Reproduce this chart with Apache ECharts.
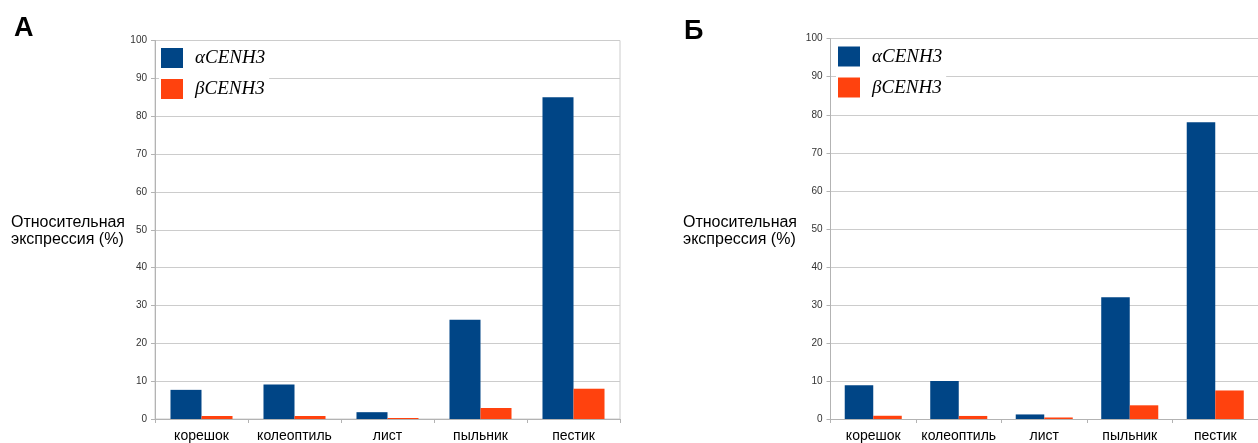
<!DOCTYPE html>
<html>
<head>
<meta charset="utf-8">
<script src="https://cdn.jsdelivr.net/npm/echarts@6/dist/echarts.min.js"></script>
<style>
html,body{margin:0;padding:0;background:#fff;}
#c{width:1258px;height:443px;}
</style>
</head>
<body>
<div id="c"></div>
<script>
var categories = ['корешок', 'колеоптиль', 'лист', 'пыльник', 'пестик'];
var seriesNames = ['αCENH3', 'βCENH3'];
var alphaA = [7.7, 9.1, 1.8, 26.2, 85.0];
var betaA = [0.8, 0.8, 0.26, 2.9, 8.0];
var alphaB = [8.9, 10.0, 1.2, 32.0, 78.0];
var betaB = [0.85, 0.8, 0.4, 3.6, 7.5];
var yTicks = {min: 0, max: 100, interval: 10};
var panelLetters = ['А', 'Б'];
var yAxisTitle = 'Относительная\nэкспрессия (%)';

var BLUE = '#004586', ORANGE = '#ff420e';
var SANS = "'Liberation Sans', Arial, sans-serif";
var SERIF = "'Liberation Serif', 'Times New Roman', serif";

function xAxisCfg(gi) {
  return {
    type: 'category', gridIndex: gi, data: categories,
    axisLine: {lineStyle: {color: '#b3b3b3', width: 1}},
    axisTick: {show: true, length: 4, lineStyle: {color: '#b3b3b3'}},
    axisLabel: {color: '#000', fontSize: 14, fontFamily: SANS, margin: 10, interval: 0}
  };
}
function yAxisCfg(gi) {
  return {
    type: 'value', gridIndex: gi, min: yTicks.min, max: yTicks.max, interval: yTicks.interval,
    axisLine: {show: true, lineStyle: {color: '#b3b3b3', width: 1}},
    axisTick: {show: true, length: 4, lineStyle: {color: '#b3b3b3'}},
    axisLabel: {color: '#333', fontSize: 10, fontFamily: SANS, margin: 8},
    splitLine: {show: true, lineStyle: {color: '#cccccc', width: 1}}
  };
}
function barSeries(name, data, color, idx) {
  return {
    type: 'bar', name: name, data: data, xAxisIndex: idx, yAxisIndex: idx,
    barGap: '0%', barCategoryGap: '33.3%',
    itemStyle: {color: color}, emphasis: {disabled: true}
  };
}
function legendCfg(left, top) {
  return {
    left: left, top: top, orient: 'vertical', data: seriesNames,
    itemWidth: 22, itemHeight: 20, itemGap: 11,
    icon: 'rect', backgroundColor: '#fff', padding: [5, 4, 5, 2], z: 10,
    textStyle: {fontFamily: SERIF, fontStyle: 'italic', fontSize: 19, color: '#000', padding: [0, 0, 0, 7]},
    selectedMode: false
  };
}

var chart = echarts.init(document.getElementById('c'), null, {renderer: 'canvas'});
chart.setOption({
  animation: false,
  backgroundColor: '#fff',
  title: [
    {text: panelLetters[0], left: 14, top: 15, textStyle: {fontFamily: SANS, fontWeight: 'bold', fontSize: 27, color: '#000'}, padding: 0},
    {text: panelLetters[1], left: 684, top: 18, textStyle: {fontFamily: SANS, fontWeight: 'bold', fontSize: 27, color: '#000'}, padding: 0},
    {text: yAxisTitle, left: 11, top: 214, padding: 0, textStyle: {fontFamily: SANS, fontWeight: 'normal', fontSize: 16, lineHeight: 17, color: '#000'}},
    {text: yAxisTitle, left: 683, top: 214, padding: 0, textStyle: {fontFamily: SANS, fontWeight: 'normal', fontSize: 16, lineHeight: 17, color: '#000'}}
  ],
  legend: [legendCfg(159, 43), legendCfg(836, 41.5)],
  grid: [
    {left: 155, top: 40.5, width: 465, bottom: 21, show: true, borderColor: '#cccccc', borderWidth: 1, containLabel: false},
    {left: 830.5, top: 38.7, width: 435, bottom: 21.7, show: false, containLabel: false}
  ],
  xAxis: [xAxisCfg(0), xAxisCfg(1)],
  yAxis: [yAxisCfg(0), yAxisCfg(1)],
  series: [
    barSeries(seriesNames[0], alphaA, BLUE, 0),
    barSeries(seriesNames[1], betaA, ORANGE, 0),
    barSeries(seriesNames[0], alphaB, BLUE, 1),
    barSeries(seriesNames[1], betaB, ORANGE, 1)
  ]
});
</script>
</body>
</html>
